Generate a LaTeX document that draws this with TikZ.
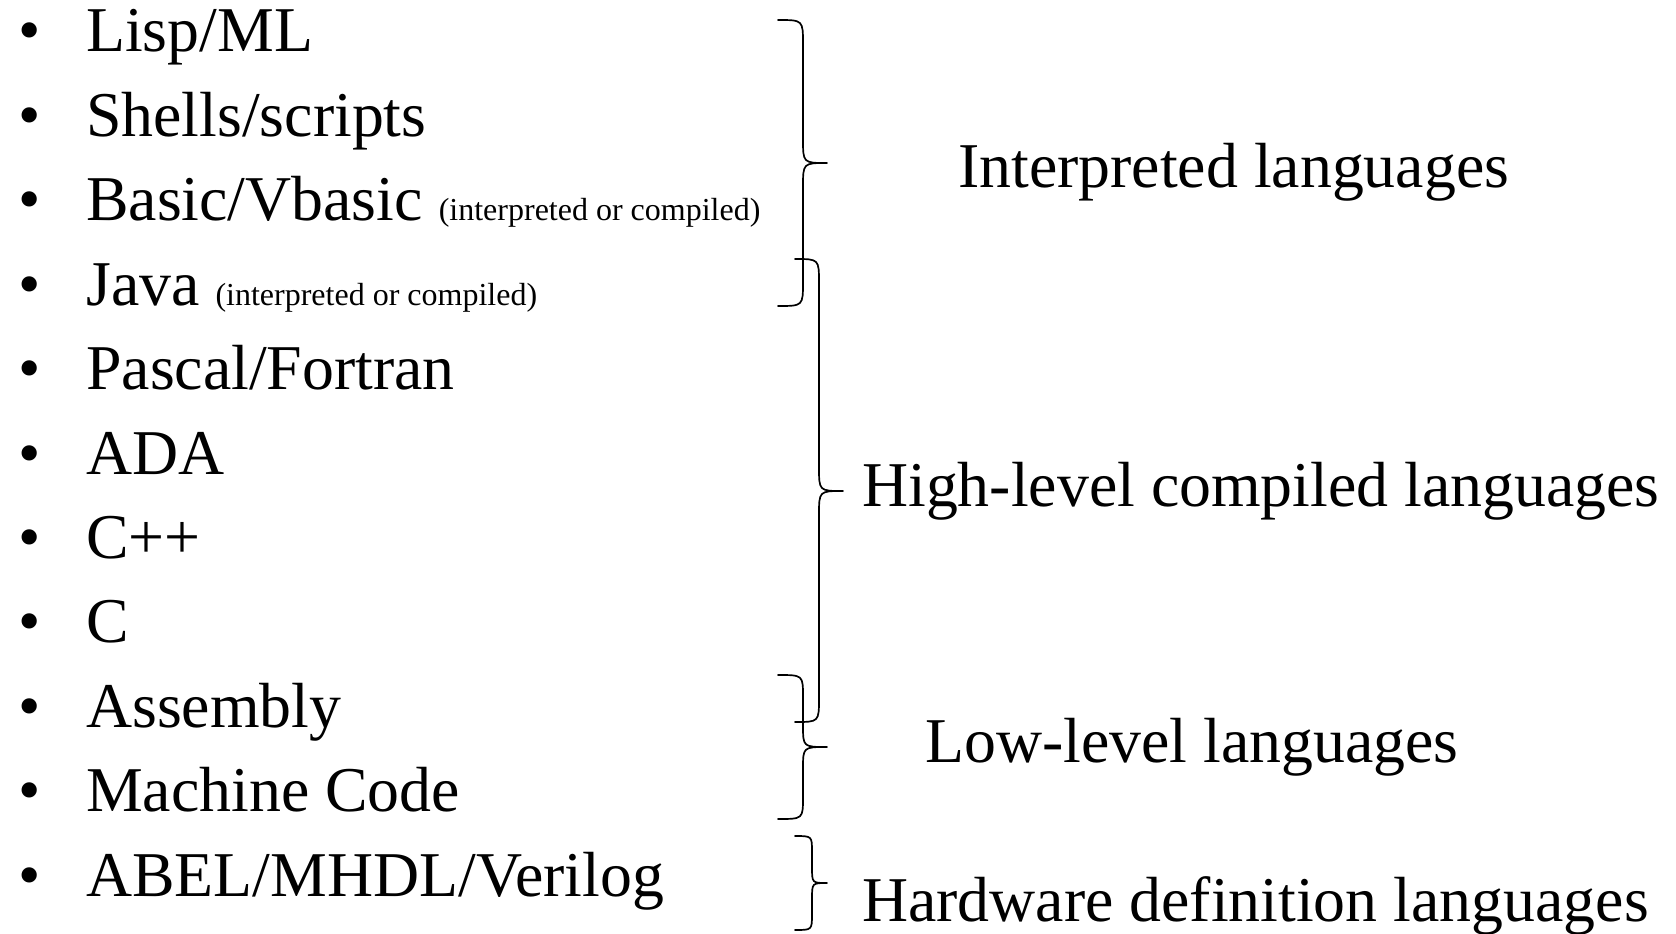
\documentclass[tikz,border=0pt]{standalone}
\usepackage{fontspec}
\setmainfont{Liberation Serif}
\newcommand\bigtxt{\fontsize{63.8}{70}\selectfont}
\newcommand\smalltxt{\fontsize{32}{36}\selectfont}
\newcommand\drawbrace[7]{%
  \draw[bracestyle] ({#1},{#4}) .. controls ({#2},{#4}) .. ({#2},{#4+#7})
    -- ({#2},{#5-#7}) .. controls ({#2},{#5}) .. ({#3},{#5})
    .. controls ({#2},{#5}) .. ({#2},{#5+#7})
    -- ({#2},{#6-#7}) .. controls ({#2},{#6}) .. ({#1},{#6});}
\begin{document}
\begin{tikzpicture}[x=1pt,y=-1pt,
  item/.style={anchor=base west,inner sep=0pt,font=\bigtxt},
  bul/.style={anchor=base,inner sep=0pt,font=\bigtxt},
  grp/.style={anchor=base west,inner sep=0pt,font=\bigtxt},
  bracestyle/.style={line width=1.7pt,line cap=round,line join=round}]
\useasboundingbox (0,0) rectangle (1676,934);
\foreach \i/\t [count=\k from 0] in {
  i1/{Lisp/ML},
  i2/{Shells/scripts},
  i3/{Basic/Vbasic {\smalltxt(interpreted or compiled)}},
  i4/{Java {\smalltxt(interpreted or compiled)}},
  i5/{Pascal/Fortran},
  i6/{ADA},
  i7/{C++},
  i8/{C},
  i9/{Assembly},
  i10/{Machine Code},
  i11/{ABEL/MHDL/Verilog}}{
  \node[bul] (b\i) at (30,{52+84.4*\k}) {\textbullet};
  \node[item] (\i) at (86,{52+84.4*\k}) {\t};
}
\node[grp] (g1) at (958,187) {Interpreted languages};
\node[grp] (g2) at (862,506) {High-level compiled languages};
\node[grp] (g3) at (925,762) {Low-level languages};
\node[grp] (g4) at (862,921) {Hardware definition languages};
% braces
\drawbrace{778}{803}{827}{20}{163}{306}{24}
\drawbrace{795}{819}{843}{259}{491}{722}{24}
\drawbrace{778}{803}{827}{675}{747}{819}{22}
\drawbrace{795}{812}{827}{836}{883}{930}{16}
\end{tikzpicture}
\end{document}
